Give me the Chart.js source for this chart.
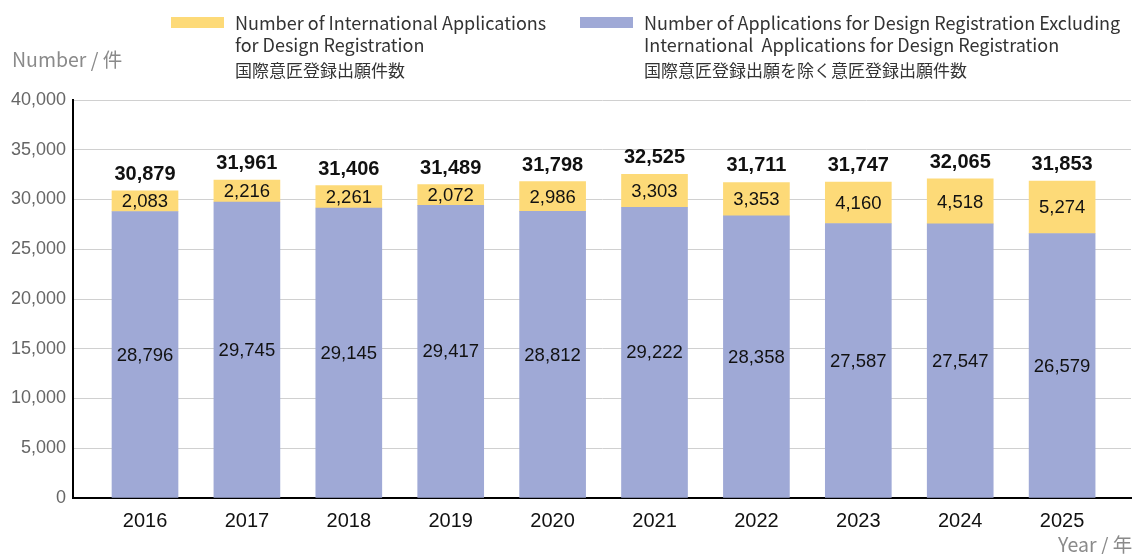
<!DOCTYPE html>
<html>
<head>
<meta charset="utf-8">
<script src="https://cdn.jsdelivr.net/npm/chart.js@4.4.1/dist/chart.umd.min.js"></script>
<style>
  html, body { margin: 0; padding: 0; background: #fff; }
  #wrap { position: relative; width: 1135px; height: 554px; overflow: hidden; }
  #chart { position: absolute; left: 0; top: 0; }
  .txt { position: absolute; font-family: "Noto Sans CJK JP", "Noto Sans", sans-serif; white-space: nowrap; line-height: 1.2; }
  .title { color: #8a8a8a; font-size: 19.5px; }
  .sw { position: absolute; width: 53px; height: 11px; }
  .leg { color: #333; font-size: 18px; line-height: 22px; }
  .leg .jp { font-size: 17px; margin-top: 4px; }
</style>
</head>
<body>
<div id="wrap">
  <canvas id="chart" width="1135" height="554"></canvas>

  <div class="sw" style="left:171px; top:17px; background:#fdda78;"></div>
  <div class="txt leg" style="left:235px; top:11px;">
    Number of International Applications<br>for Design Registration
    <div class="jp">国際意匠登録出願件数</div>
  </div>

  <div class="sw" style="left:580px; top:17px; background:#9fa9d6;"></div>
  <div class="txt leg" style="left:644px; top:11px;">
    Number of Applications for Design Registration Excluding<br>International&nbsp; Applications for Design Registration
    <div class="jp">国際意匠登録出願を除く意匠登録出願件数</div>
  </div>

  <div class="txt title" style="left:12px; top:47px;">Number / 件</div>
  <div class="txt title" style="left:1058px; top:532px;">Year / 年</div>
</div>

<script>
const years = [2016, 2017, 2018, 2019, 2020, 2021, 2022, 2023, 2024, 2025];
const domestic = [28796, 29745, 29145, 29417, 28812, 29222, 28358, 27587, 27547, 26579];
const international = [2083, 2216, 2261, 2072, 2986, 3303, 3353, 4160, 4518, 5274];
const yTicks = [0, 5000, 10000, 15000, 20000, 25000, 30000, 35000, 40000];

const fmt = v => v.toLocaleString('en-US');

// writes the segment values inside each bar and the stack total on top
const barLabels = {
  id: 'barLabels',
  afterDatasetsDraw(chart) {
    const ctx = chart.ctx;
    ctx.save();
    ctx.textAlign = 'center';
    ctx.fillStyle = '#111';
    chart.data.datasets.forEach((ds, di) => {
      const meta = chart.getDatasetMeta(di);
      meta.data.forEach((bar, i) => {
        const mid = (bar.y + bar.base) / 2;
        ctx.font = '18.5px "Liberation Sans", Arial, sans-serif';
        ctx.textBaseline = 'middle';
        ctx.fillText(fmt(ds.data[i].y), bar.x, mid + 1);
      });
    });
    const top = chart.getDatasetMeta(chart.data.datasets.length - 1);
    top.data.forEach((bar, i) => {
      ctx.font = 'bold 20px "Liberation Sans", Arial, sans-serif';
      ctx.textBaseline = 'alphabetic';
      ctx.fillText(fmt(domestic[i] + international[i]), bar.x, bar.y - 11);
    });
    ctx.restore();
  }
};

new Chart(document.getElementById('chart'), {
  type: 'bar',
  data: {
    datasets: [
      {
        label: 'Number of Applications for Design Registration Excluding International Applications for Design Registration',
        data: years.map((y, i) => ({ x: y, y: domestic[i] })),
        backgroundColor: '#9fa9d6'
      },
      {
        label: 'Number of International Applications for Design Registration',
        data: years.map((y, i) => ({ x: y, y: international[i] })),
        backgroundColor: '#fdda78'
      }
    ]
  },
  options: {
    responsive: false,
    animation: false,
    layout: { padding: { top: 100, right: 4, left: 0, bottom: 0 } },
    datasets: { bar: { barThickness: 66 } },
    plugins: {
      legend: { display: false },
      tooltip: { enabled: false }
    },
    scales: {
      x: {
        type: 'linear',
        stacked: true,
        offset: false,
        min: 2015.2934,
        max: 2025.676,
        afterBuildTicks: s => { s.ticks = years.map(v => ({ value: v })); },
        afterFit: s => { s.height = 56; },
        grid: { display: false, offset: false },
        border: { display: true, color: '#000', width: 2 },
        ticks: {
          callback: v => String(v),
          color: '#111',
          padding: 3,
          maxRotation: 0,
          font: { family: '"Liberation Sans", Arial, sans-serif', size: 20 }
        }
      },
      y: {
        stacked: true,
        min: 0,
        max: 40000,
        afterBuildTicks: s => { s.ticks = yTicks.map(v => ({ value: v })); },
        afterFit: s => { s.width = 73; },
        grid: { color: '#d0d0d0', lineWidth: 1, drawTicks: false },
        border: { display: true, color: '#000', width: 2 },
        ticks: {
          callback: v => fmt(v),
          color: '#666',
          padding: 7,
          font: { family: '"Liberation Sans", Arial, sans-serif', size: 18 }
        }
      }
    }
  },
  plugins: [barLabels]
});
</script>
</body>
</html>
